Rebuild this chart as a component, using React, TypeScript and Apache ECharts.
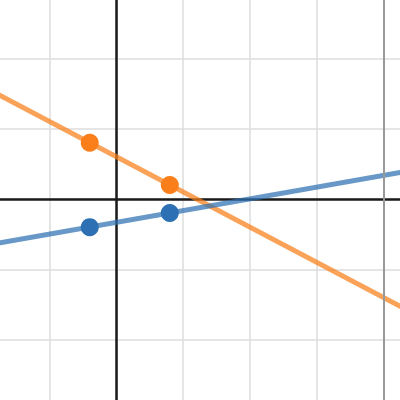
import React, { useEffect, useRef } from "react";
import * as echarts from "echarts";

const pointX = [-0.4, 0.8];
const blueY = [-0.4, -0.2];
const orangeY = [0.8, 0.2];
const xRange = [-2, 5];
const yRange = [-3, 3];
const highlightX = [4];

function extend(xs: number[], ys: number[]): number[][] {
  const slope = (ys[1] - ys[0]) / (xs[1] - xs[0]);
  return xRange.map((x) => [x, ys[0] + slope * (x - xs[0])]);
}

export default function App() {
  const ref = useRef<HTMLDivElement>(null);
  useEffect(() => {
    if (!ref.current) return;
    const chart = echarts.init(ref.current, null, { renderer: "svg" });
    const blue = "#2d70b3";
    const orange = "#fa7e19";
    chart.setOption({
      animation: false,
      backgroundColor: "#ffffff",
      grid: { left: 0, right: 0, top: 0, bottom: 0, containLabel: false },
      xAxis: {
        type: "value",
        min: xRange[0],
        max: xRange[1],
        interval: 1,
        axisLine: { onZero: true, lineStyle: { color: "#1a1a1a", width: 2.5 } },
        axisTick: { show: false },
        axisLabel: { show: false },
        splitLine: { show: true, lineStyle: { color: "#dcdcdc", width: 1.5 } },
      },
      yAxis: {
        type: "value",
        min: yRange[0],
        max: yRange[1],
        interval: 1,
        axisLine: { onZero: true, lineStyle: { color: "#1a1a1a", width: 2.5 } },
        axisTick: { show: false },
        axisLabel: { show: false },
        splitLine: { show: true, lineStyle: { color: "#dcdcdc", width: 1.5 } },
      },
      series: [
        {
          type: "line",
          data: [],
          silent: true,
          markLine: {
            silent: true,
            symbol: "none",
            label: { show: false },
            lineStyle: { color: "#999999", width: 2, type: "solid" },
            data: highlightX.map((x) => ({ xAxis: x })),
          },
        },
        {
          type: "line",
          data: extend(pointX, orangeY),
          showSymbol: false,
          lineStyle: { color: orange, width: 5, opacity: 0.72 },
          itemStyle: { color: orange },
          z: 3,
        },
        {
          type: "line",
          data: extend(pointX, blueY),
          showSymbol: false,
          lineStyle: { color: blue, width: 5, opacity: 0.72 },
          itemStyle: { color: blue },
          z: 3,
        },
        {
          type: "scatter",
          data: pointX.map((x, i) => [x, blueY[i]]),
          symbolSize: 18,
          itemStyle: { color: blue, opacity: 1 },
          z: 4,
        },
        {
          type: "scatter",
          data: pointX.map((x, i) => [x, orangeY[i]]),
          symbolSize: 18,
          itemStyle: { color: orange, opacity: 1 },
          z: 4,
        },
      ],
    });
    return () => chart.dispose();
  }, []);
  return (
    <div
      ref={ref}
      style={{ width: 466.7, height: 422.4, position: "fixed", left: -16.6, top: -11.7 }}
    />
  );
}
